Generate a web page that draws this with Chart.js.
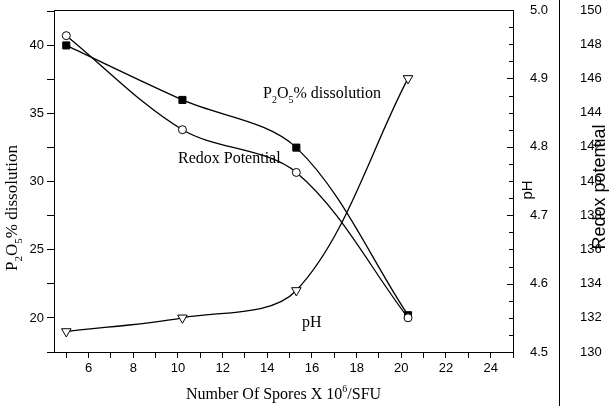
<!DOCTYPE html>
<html>
<head>
<meta charset="utf-8">
<script src="https://cdn.jsdelivr.net/npm/chart.js@4/dist/chart.umd.min.js"></script>
<style>
  html, body { margin: 0; padding: 0; background: #fff; }
</style>
</head>
<body>
<canvas id="chart" width="610" height="406"></canvas>
<script>
// values
const spores = [5.0, 10.2, 15.3, 20.3];
const p2o5 = [40.0, 36.0, 32.5, 20.2];
const redox = [148.5, 143.0, 140.5, 132.0];
const ph = [4.53, 4.55, 4.59, 4.90];

const serif = '"Liberation Serif", "Times New Roman", serif';
const sans = '"Liberation Sans", Arial, sans-serif';
const tickFont = { family: sans, size: 13 };

function pts(ys) {
  return spores.map((x, i) => ({ x: x, y: ys[i] }));
}

// text with sub/superscripts: parts = [[text, 'sub'|'sup'|null], ...]
function richWidth(ctx, parts, size) {
  let w = 0;
  parts.forEach(p => {
    ctx.font = (p[1] ? Math.round(size * 0.62) : size) + 'px ' + serif;
    w += ctx.measureText(p[0]).width;
  });
  return w;
}
function drawRich(ctx, parts, x, y, size) {
  let cx = x;
  parts.forEach(p => {
    const s = p[1] ? Math.round(size * 0.62) : size;
    ctx.font = s + 'px ' + serif;
    let dy = 0;
    if (p[1] === 'sub') dy = size * 0.3;
    if (p[1] === 'sup') dy = -size * 0.42;
    ctx.fillText(p[0], cx, y + dy);
    cx += ctx.measureText(p[0]).width;
  });
}

const p2o5Title = [['P', null], ['2', 'sub'], ['O', null], ['5', 'sub'], ['% dissolution', null]];
const xTitle = [['Number Of Spores X 10', null], ['6', 'sup'], ['/SFU', null]];

// keep the plot box where the reference has it
function noPad(s) {
  s.paddingTop = 0;
  s.paddingBottom = 0;
  s.paddingLeft = 0;
  s.paddingRight = 0;
}

const decor = {
  id: 'decor',
  afterDraw(chart) {
    const ctx = chart.ctx;
    const a = chart.chartArea;
    const sPh = chart.scales.yPh;
    const sRx = chart.scales.yRedox;
    ctx.save();
    ctx.strokeStyle = '#000';
    ctx.lineWidth = 1;
    // top frame line
    ctx.beginPath();
    ctx.moveTo(a.left, Math.round(a.top) + 0.5);
    ctx.lineTo(a.right, Math.round(a.top) + 0.5);
    ctx.stroke();
    // pH ticks point into the plot
    sPh.ticks.forEach(t => {
      const y = Math.round(sPh.getPixelForValue(t.value)) + 0.5;
      const major = Math.abs(t.value * 10 - Math.round(t.value * 10)) < 1e-6;
      ctx.beginPath();
      ctx.moveTo(a.right, y);
      ctx.lineTo(a.right - (major ? 6 : 4), y);
      ctx.stroke();
    });
    // redox axis line runs the full height
    const rx = Math.round(sRx.left) + 0.5;
    ctx.beginPath();
    ctx.moveTo(rx, 0);
    ctx.lineTo(rx, chart.height);
    ctx.stroke();

    ctx.fillStyle = '#000';
    ctx.textBaseline = 'alphabetic';
    ctx.textAlign = 'left';
    // annotations inside plot
    drawRich(ctx, p2o5Title, 263, 98, 16);
    drawRich(ctx, [['Redox Potential', null]], 178, 163, 16);
    drawRich(ctx, [['pH', null]], 302, 327, 16);

    // x axis title
    let w = richWidth(ctx, xTitle, 16);
    drawRich(ctx, xTitle, (a.left + a.right) / 2 - w / 2, 399, 16);

    // left axis title
    w = richWidth(ctx, p2o5Title, 17);
    ctx.save();
    ctx.translate(17, 208);
    ctx.rotate(-Math.PI / 2);
    drawRich(ctx, p2o5Title, -w / 2, 0, 17);
    ctx.restore();

    // pH title
    ctx.save();
    ctx.translate(532, 190);
    ctx.rotate(-Math.PI / 2);
    ctx.font = '15px ' + sans;
    ctx.textAlign = 'center';
    ctx.fillText('pH', 0, 0);
    ctx.restore();

    // redox title
    ctx.save();
    ctx.translate(605, 187);
    ctx.rotate(-Math.PI / 2);
    ctx.font = '18px ' + sans;
    ctx.textAlign = 'center';
    ctx.fillText('Redox potential', 0, 0);
    ctx.restore();

    ctx.restore();
  }
};

const line = {
  borderColor: '#000',
  borderWidth: 1.3,
  pointBorderColor: '#000',
  pointBorderWidth: 1,
  tension: 0.33,
  fill: false
};

new Chart(document.getElementById('chart'), {
  type: 'line',
  data: {
    datasets: [
      Object.assign({}, line, {
        label: 'Redox Potential',
        data: pts(redox),
        yAxisID: 'yRedox',
        pointStyle: 'circle',
        pointRadius: 4,
        pointBackgroundColor: '#fff'
      }),
      Object.assign({}, line, {
        label: 'P2O5% dissolution',
        data: pts(p2o5),
        yAxisID: 'y',
        pointStyle: 'rect',
        pointRadius: 5,
        pointBackgroundColor: '#000'
      }),
      Object.assign({}, line, {
        label: 'pH',
        data: pts(ph),
        yAxisID: 'yPh',
        pointStyle: 'triangle',
        pointRotation: 180,
        pointRadius: 5.5,
        pointBackgroundColor: '#fff'
      })
    ]
  },
  options: {
    responsive: false,
    animation: false,
    layout: { padding: { top: 10, left: 0, right: 0, bottom: 0 } },
    plugins: {
      legend: { display: false },
      tooltip: { enabled: false }
    },
    scales: {
      x: {
        type: 'linear',
        position: 'bottom',
        min: 4.45,
        max: 25,
        afterFit: s => { s.height = 54; noPad(s); },
        border: { color: '#000', width: 1 },
        grid: { drawOnChartArea: false, tickLength: 6, color: '#000' },
        ticks: {
          stepSize: 1,
          includeBounds: false,
          autoSkip: false,
          maxRotation: 0,
          padding: 3,
          color: '#000',
          font: tickFont,
          callback: v => (Math.round(v) % 2 === 0 ? String(v) : '')
        }
      },
      y: {
        type: 'linear',
        position: 'left',
        min: 17.5,
        max: 42.6,
        afterFit: s => { s.width = 54; noPad(s); },
        border: { color: '#000', width: 1 },
        grid: { drawOnChartArea: false, tickLength: 7, color: '#000' },
        ticks: {
          stepSize: 2.5,
          includeBounds: false,
          autoSkip: false,
          padding: 3,
          color: '#000',
          font: tickFont,
          callback: v => (Math.abs(v % 5) < 1e-6 ? String(v) : '')
        }
      },
      yPh: {
        type: 'linear',
        position: 'right',
        weight: 0,
        min: 4.5,
        max: 5.0,
        afterFit: s => { s.width = 46; noPad(s); },
        border: { color: '#000', width: 1 },
        grid: { display: false },
        ticks: {
          stepSize: 0.025,
          autoSkip: false,
          padding: 9,
          color: '#000',
          font: tickFont,
          callback: v => (Math.abs(v * 10 - Math.round(v * 10)) < 1e-6 ? v.toFixed(1) : '')
        }
      },
      yRedox: {
        type: 'linear',
        position: 'right',
        weight: 1,
        min: 130,
        max: 150,
        afterFit: s => { s.width = 51; noPad(s); },
        border: { display: false },
        grid: { display: false },
        ticks: {
          stepSize: 2,
          autoSkip: false,
          padding: 13,
          color: '#000',
          font: tickFont
        }
      }
    }
  },
  plugins: [decor]
});
</script>
</body>
</html>
